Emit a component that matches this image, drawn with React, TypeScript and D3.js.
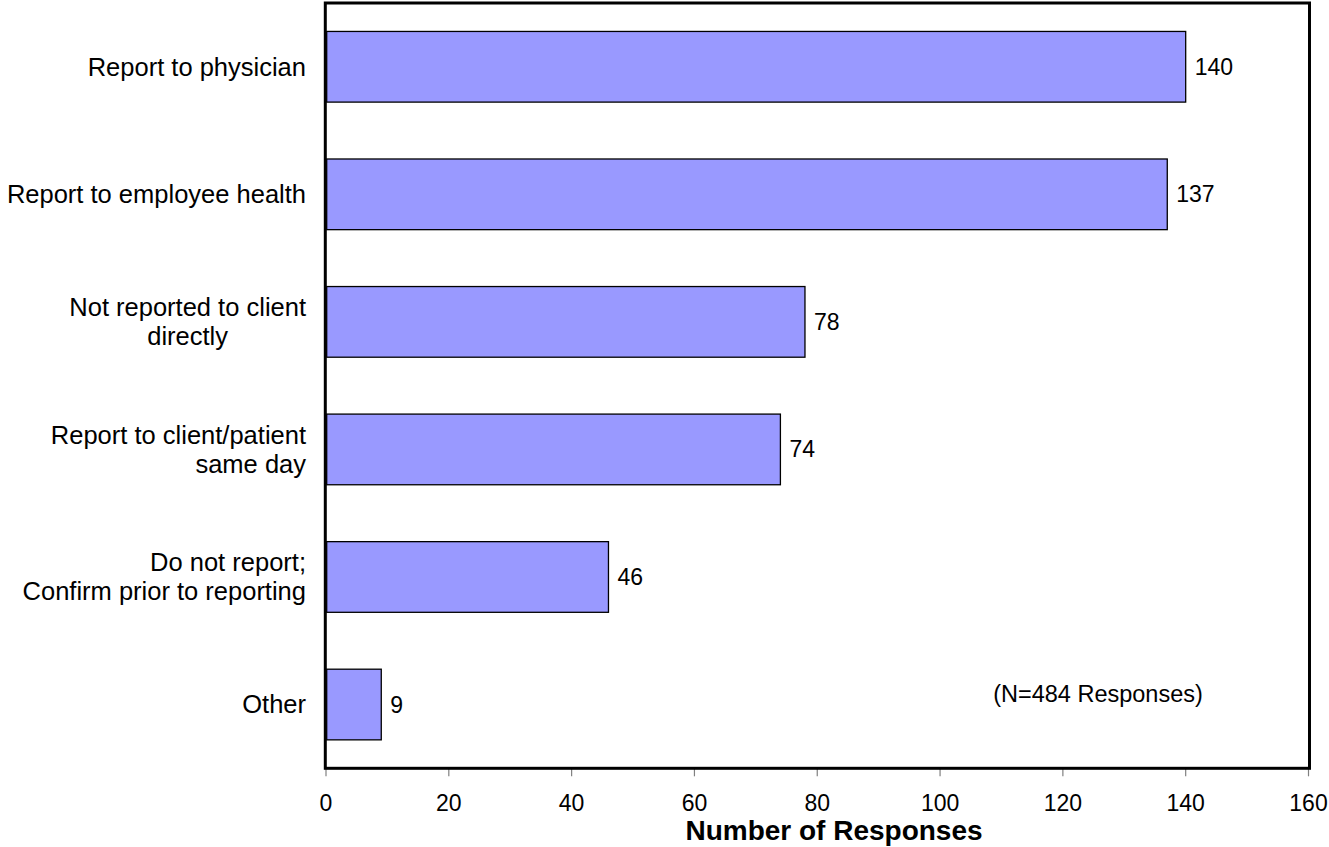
import React from "react";
import * as d3 from "d3";

const categories: string[][] = [
  ["Report to physician"],
  ["Report to employee health"],
  ["Not reported to client", "directly"],
  ["Report to client/patient", "same day"],
  ["Do not report;", "Confirm prior to reporting"],
  ["Other"],
];
// second-line alignment of wrapped labels ("middle" = centred under the first line)
const secondLineAlign: string[] = ["end", "end", "middle", "end", "end", "end"];
const values: number[] = [140, 137, 78, 74, 46, 9];
const xTicks: number[] = [0, 20, 40, 60, 80, 100, 120, 140, 160];
const xTitle = "Number of Responses";
const note = "(N=484 Responses)";

const W = 1329;
const H = 847;
const left = 326;
const right = 1308.5;
const top = 3;
const bottom = 768.3;
const FONT = "Arial, 'Liberation Sans', Helvetica, sans-serif";
const LABEL_SIZE = 25.5;

function textWidth(s: string, size: number): number {
  if (typeof document === "undefined") return s.length * size * 0.5;
  const c = document.createElement("canvas").getContext("2d");
  if (!c) return s.length * size * 0.5;
  c.font = `${size}px ${FONT}`;
  return c.measureText(s).width;
}

export default function App() {
  const x = d3.scaleLinear().domain([0, 160]).range([left, right]);
  const ids = categories.map((_, i) => String(i));
  const y = d3
    .scaleBand<string>()
    .domain(ids)
    .range([top, bottom])
    .paddingInner(0.446)
    .paddingOuter(0.223);
  const bw = y.bandwidth();
  const labelRight = 306;

  return (
    <svg
      width={W}
      height={H}
      style={{ position: "absolute", left: 0, top: 0, background: "#fff" }}
    >
      <rect x={0} y={0} width={W} height={H} fill="#fff" />
      {xTicks.map((t) => (
        <g key={t}>
          <line x1={x(t)} x2={x(t)} y1={bottom} y2={bottom + 8} stroke="#808080" strokeWidth={1.2} />
          <text x={x(t)} y={810.5} textAnchor="middle" fontFamily={FONT} fontSize={23} fill="#000">
            {t}
          </text>
        </g>
      ))}
      <rect
        x={325.3}
        y={top}
        width={1309.5 - 325.3}
        height={bottom - top}
        fill="none"
        stroke="#000"
        strokeWidth={3}
      />
      {values.map((v, i) => {
        const yy = y(String(i))!;
        return (
          <g key={i}>
            <rect
              x={x(0) + 0.7}
              y={yy}
              width={x(v) - x(0) - 0.7}
              height={bw}
              fill="#9999ff"
              stroke="#000"
              strokeWidth={1.3}
            />
            <text x={x(v) + 9} y={yy + bw / 2} dy="0.35em" fontFamily={FONT} fontSize={23} fill="#000">
              {v}
            </text>
          </g>
        );
      })}
      {categories.map((lines, i) => {
        const cy = y(String(i))! + bw / 2;
        const lh = 29;
        const start = cy - ((lines.length - 1) * lh) / 2;
        const firstW = textWidth(lines[0], LABEL_SIZE);
        return (
          <g key={i}>
            {lines.map((ln, j) => {
              const centred = j > 0 && secondLineAlign[i] === "middle";
              return (
                <text
                  key={j}
                  x={centred ? labelRight - firstW / 2 : labelRight}
                  y={start + j * lh}
                  dy="0.35em"
                  textAnchor={centred ? "middle" : "end"}
                  fontFamily={FONT}
                  fontSize={LABEL_SIZE}
                  fill="#000"
                >
                  {ln}
                </text>
              );
            })}
          </g>
        );
      })}
      <text x={1098} y={694} dy="0.35em" textAnchor="middle" fontFamily={FONT} fontSize={23.5} fill="#000">
        {note}
      </text>
      <text
        x={834}
        y={840}
        textAnchor="middle"
        fontFamily={FONT}
        fontSize={28}
        fontWeight="bold"
        fill="#000"
      >
        {xTitle}
      </text>
    </svg>
  );
}
